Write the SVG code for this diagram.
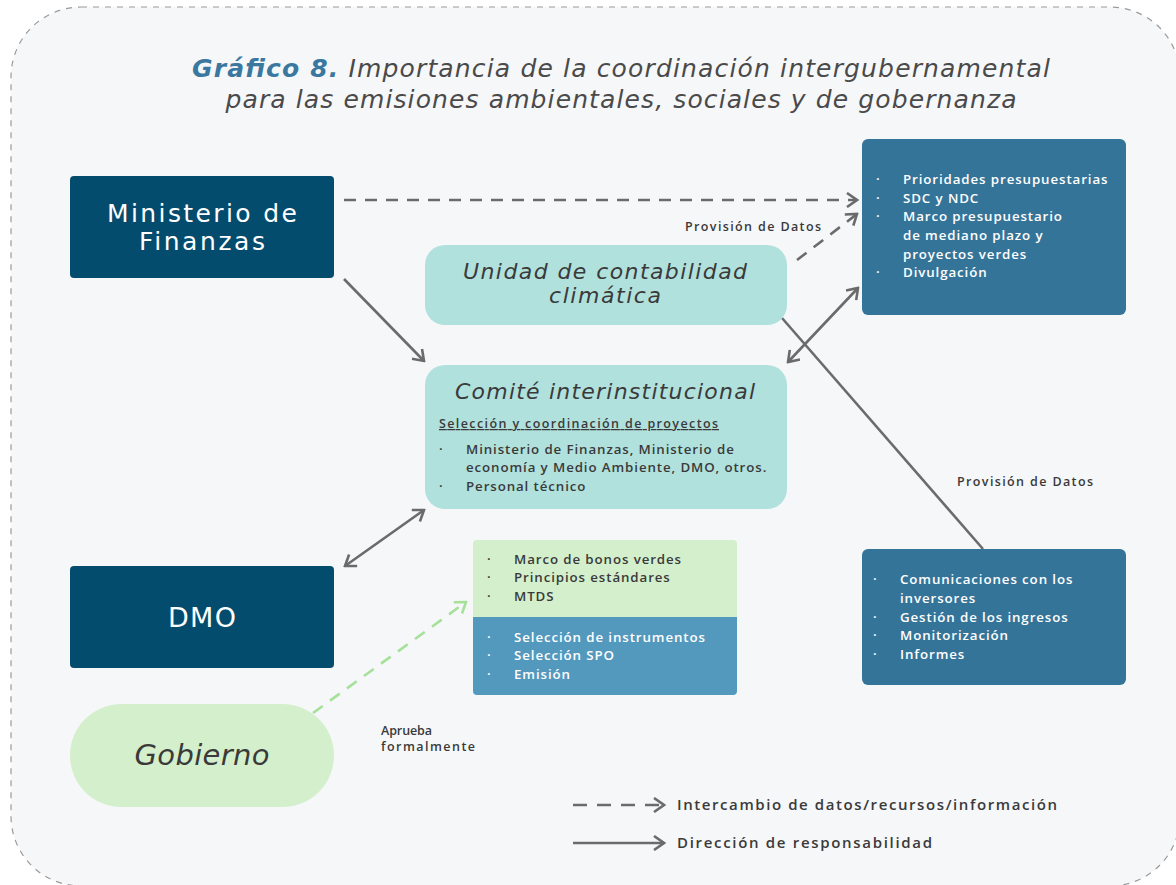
<svg xmlns="http://www.w3.org/2000/svg" width="1176" height="885" viewBox="0 0 1176 885">
<style>
  .bg{fill:#f6f7f9;stroke:#9a9a9a;stroke-width:1.2;stroke-dasharray:6 6}
  .t{font-family:"Open Sans","Liberation Sans",sans-serif}
  .v{font-family:"DejaVu Sans","Liberation Sans",sans-serif}
  .navy{fill:#034c6e}
  .blue{fill:#357499}
  .teal{fill:#b1e1dd}
  .green{fill:#d4efcc}
  .big{font-size:24px;fill:#ffffff;text-anchor:middle}
  .it{font-size:22px;font-style:italic;fill:#3a3a3a;text-anchor:middle}
  .w{font-size:13.3px;font-weight:600;fill:#ffffff;letter-spacing:0.9px}
  .d{font-size:13.3px;font-weight:600;fill:#3a3a3a;letter-spacing:0.9px}
  .lbl{font-size:12.5px;font-weight:600;fill:#3a3a3a}
  .leg{font-size:15px;font-weight:600;fill:#3a3a3a}
  .ln{fill:none;stroke:#6b6b6b;stroke-width:2.6}
  .dash{stroke-dasharray:12 9}
</style>
<defs>
  <marker id="ah" viewBox="0 0 14 16" refX="12" refY="8" markerWidth="14" markerHeight="16" markerUnits="userSpaceOnUse" orient="auto-start-reverse">
    <path d="M2,1 L12,8 L2,15" fill="none" stroke="#6b6b6b" stroke-width="2.6"/>
  </marker>
  <marker id="ahg" viewBox="0 0 14 16" refX="12" refY="8" markerWidth="14" markerHeight="16" markerUnits="userSpaceOnUse" orient="auto">
    <path d="M2,1 L12,8 L2,15" fill="none" stroke="#a6e19a" stroke-width="2.6"/>
  </marker>
</defs>
<rect class="bg" x="11" y="7" width="1169" height="879" rx="70"/>
<g id="title" class="v" font-size="25" text-anchor="middle">
  <text x="621" y="77" font-style="italic" fill="#4a4a4a" textLength="858" lengthAdjust="spacing"><tspan font-weight="700" fill="#3a78a0">Gráfico 8.</tspan> Importancia de la coordinación intergubernamental</text>
  <text x="621" y="108" font-style="italic" fill="#4a4a4a" textLength="791" lengthAdjust="spacing">para las emisiones ambientales, sociales y de gobernanza</text>
</g>
<g id="connectors">
  <line class="ln dash" x1="344" y1="200" x2="857" y2="200" marker-end="url(#ah)"/>
  <line class="ln dash" x1="797" y1="260" x2="857" y2="214" marker-end="url(#ah)"/>
  <line class="ln" x1="344" y1="279" x2="424" y2="361" marker-end="url(#ah)"/>
  <line class="ln" x1="788" y1="362" x2="858" y2="288" marker-start="url(#ah)" marker-end="url(#ah)"/>
  <line class="ln" x1="782" y1="318" x2="983" y2="549"/>
  <line class="ln" x1="345" y1="566" x2="424" y2="510" marker-start="url(#ah)" marker-end="url(#ah)"/>
  <line x1="313" y1="713" x2="466" y2="602" fill="none" stroke="#a6e19a" stroke-width="2.6" stroke-dasharray="12 9" marker-end="url(#ahg)"/>
  <text class="t lbl" x="685" y="231" textLength="136" lengthAdjust="spacing">Provisión de Datos</text>
  <text class="t lbl" x="957" y="486" textLength="136" lengthAdjust="spacing">Provisión de Datos</text>
  <text class="t lbl" x="381" y="735" textLength="51" lengthAdjust="spacing">Aprueba</text>
  <text class="t lbl" x="381" y="751" textLength="94" lengthAdjust="spacing">formalmente</text>
</g>
<g id="ministerio">
  <rect class="navy" x="70" y="176" width="264" height="102" rx="4"/>
  <text class="v big" x="202" y="222" style="font-size:25px" textLength="190" lengthAdjust="spacing">Ministerio de</text>
  <text class="v big" x="202" y="250" style="font-size:25px" textLength="126" lengthAdjust="spacing">Finanzas</text>
</g>
<g id="unidad">
  <rect class="teal" x="425" y="245" width="362" height="80" rx="20"/>
  <text class="v it" x="605" y="279" textLength="284" lengthAdjust="spacing">Unidad de contabilidad</text>
  <text class="v it" x="605" y="303" textLength="112" lengthAdjust="spacing">climática</text>
</g>
<g id="comite">
  <rect class="teal" x="425" y="365" width="362" height="144" rx="20"/>
  <text class="v it" x="605" y="399" textLength="300" lengthAdjust="spacing">Comité interinstitucional</text>
  <text class="t d" x="439" y="428" text-decoration="underline" style="font-size:12.5px" textLength="280" lengthAdjust="spacing">Selección y coordinación de proyectos</text>
  <text class="t d" x="439" y="454">·</text>
  <text class="t d" x="466" y="454">Ministerio de Finanzas, Ministerio de</text>
  <text class="t d" x="466" y="472">economía y Medio Ambiente, DMO, otros.</text>
  <text class="t d" x="439" y="491">·</text>
  <text class="t d" x="466" y="491">Personal técnico</text>
</g>
<g id="prioridades">
  <rect class="blue" x="862" y="139" width="264" height="176" rx="6"/>
  <g class="t w">
    <text x="876" y="184">·</text><text x="903" y="184">Prioridades presupuestarias</text>
    <text x="876" y="203">·</text><text x="903" y="203">SDC y NDC</text>
    <text x="876" y="221">·</text><text x="903" y="221">Marco presupuestario</text>
    <text x="903" y="240">de mediano plazo y</text>
    <text x="903" y="259">proyectos verdes</text>
    <text x="876" y="277">·</text><text x="903" y="277">Divulgación</text>
  </g>
</g>
<g id="comunicaciones">
  <rect class="blue" x="862" y="549" width="264" height="136" rx="6"/>
  <g class="t w">
    <text x="873" y="584">·</text><text x="900" y="584">Comunicaciones con los</text>
    <text x="900" y="603">inversores</text>
    <text x="873" y="622">·</text><text x="900" y="622">Gestión de los ingresos</text>
    <text x="873" y="640">·</text><text x="900" y="640">Monitorización</text>
    <text x="873" y="659">·</text><text x="900" y="659">Informes</text>
  </g>
</g>
<g id="marco">
  <path class="green" d="M473,544 a4,4 0 0 1 4,-4 h256 a4,4 0 0 1 4,4 v73 h-264 z"/>
  <path d="M473,617 h264 v74 a4,4 0 0 1 -4,4 h-256 a4,4 0 0 1 -4,-4 z" fill="#5399be"/>
  <g class="t d">
    <text x="487" y="564">·</text><text x="514" y="564">Marco de bonos verdes</text>
    <text x="487" y="582">·</text><text x="514" y="582">Principios estándares</text>
    <text x="487" y="601">·</text><text x="514" y="601">MTDS</text>
  </g>
  <g class="t w">
    <text x="487" y="642">·</text><text x="514" y="642">Selección de instrumentos</text>
    <text x="487" y="660">·</text><text x="514" y="660">Selección SPO</text>
    <text x="487" y="679">·</text><text x="514" y="679">Emisión</text>
  </g>
</g>
<g id="dmo">
  <rect class="navy" x="70" y="566" width="264" height="102" rx="4"/>
  <text class="v big" x="202" y="627" style="font-size:27px" textLength="68" lengthAdjust="spacing">DMO</text>
</g>
<g id="gobierno">
  <rect class="green" x="70" y="704" width="264" height="103" rx="51.5"/>
  <text class="v it" x="202" y="765" style="font-size:29px" textLength="135" lengthAdjust="spacing">Gobierno</text>
</g>
<g id="legend">
  <line class="ln" x1="573" y1="805" x2="664" y2="805" stroke-dasharray="14 10" marker-end="url(#ah)"/>
  <text class="t leg" x="677" y="810" textLength="380" lengthAdjust="spacing">Intercambio de datos/recursos/información</text>
  <line class="ln" x1="573" y1="843" x2="664" y2="843" marker-end="url(#ah)"/>
  <text class="t leg" x="677" y="848" textLength="255" lengthAdjust="spacing">Dirección de responsabilidad</text>
</g>
</svg>
